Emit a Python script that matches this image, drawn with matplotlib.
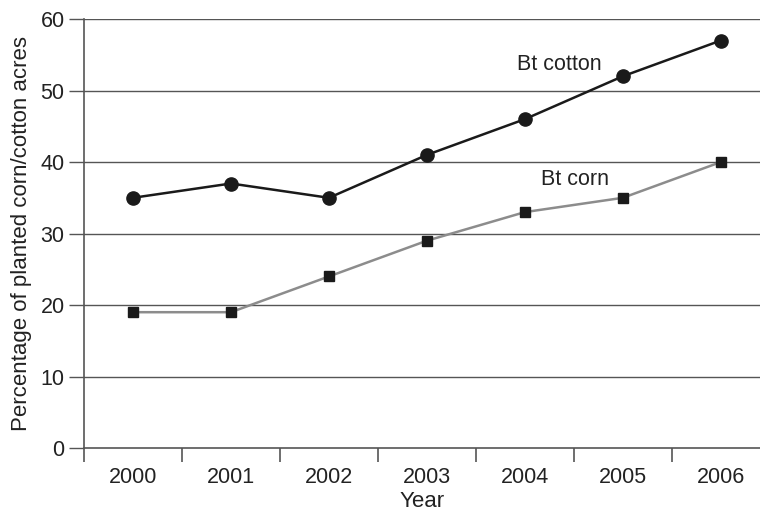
import matplotlib.pyplot as plt

plt.rcParams['font.family'] = ['Liberation Sans', 'DejaVu Sans']

# data
years = ['2000', '2001', '2002', '2003', '2004', '2005', '2006']
bt_cotton = [35, 37, 35, 41, 46, 52, 57]
bt_corn = [19, 19, 24, 29, 33, 35, 40]

fig = plt.figure(figsize=(7.6, 5.15), dpi=100)
ax = fig.add_axes([0.1105, 0.130, 0.8895, 0.833])

x = list(range(len(years)))

# grid lines
for yv in range(10, 61, 10):
    ax.axhline(yv, color='#555555', lw=1.0, zorder=1)

ax.plot(x, bt_corn, color='#8c8c8c', lw=1.8, marker='s', ms=7.5,
        mfc='#1a1a1a', mec='#1a1a1a', zorder=3)
ax.plot(x, bt_cotton, color='#1a1a1a', lw=1.8, marker='o', ms=9.5,
        mfc='#1a1a1a', mec='#1a1a1a', zorder=4)

ax.text(4.35, 53.6, 'Bt cotton', fontsize=15.5, color='#222222',
        ha='center', va='center')
ax.text(4.51, 37.6, 'Bt corn', fontsize=15.5, color='#222222',
        ha='center', va='center')

ax.set_xlim(-0.5, 6.4)
ax.set_ylim(0, 60)

# ticks at category boundaries, labels centred
ax.set_xticks([i - 0.5 for i in range(len(years))])
ax.set_xticklabels([])
ax.set_xticks(x, minor=True)
ax.set_xticklabels(years, minor=True, fontsize=15.5, color='#222222')
ax.tick_params(axis='x', which='minor', length=0, pad=14)
ax.tick_params(axis='x', which='major', length=10, width=1.2, color='#555555',
               direction='out')
ax.set_yticks(range(0, 61, 10))
ax.tick_params(axis='y', length=11, width=1.0, color='#555555', labelsize=15.5,
               labelcolor='#222222', pad=3)

for s in ['top', 'right']:
    ax.spines[s].set_visible(False)
for s in ['left', 'bottom']:
    ax.spines[s].set_color('#555555')
    ax.spines[s].set_linewidth(1.2)

ax.set_xlabel('Year', fontsize=16, color='#222222', labelpad=2)
ax.set_ylabel('Percentage of planted corn/cotton acres', fontsize=16,
              color='#222222', labelpad=6)

fig.savefig('out.png', dpi=100)
